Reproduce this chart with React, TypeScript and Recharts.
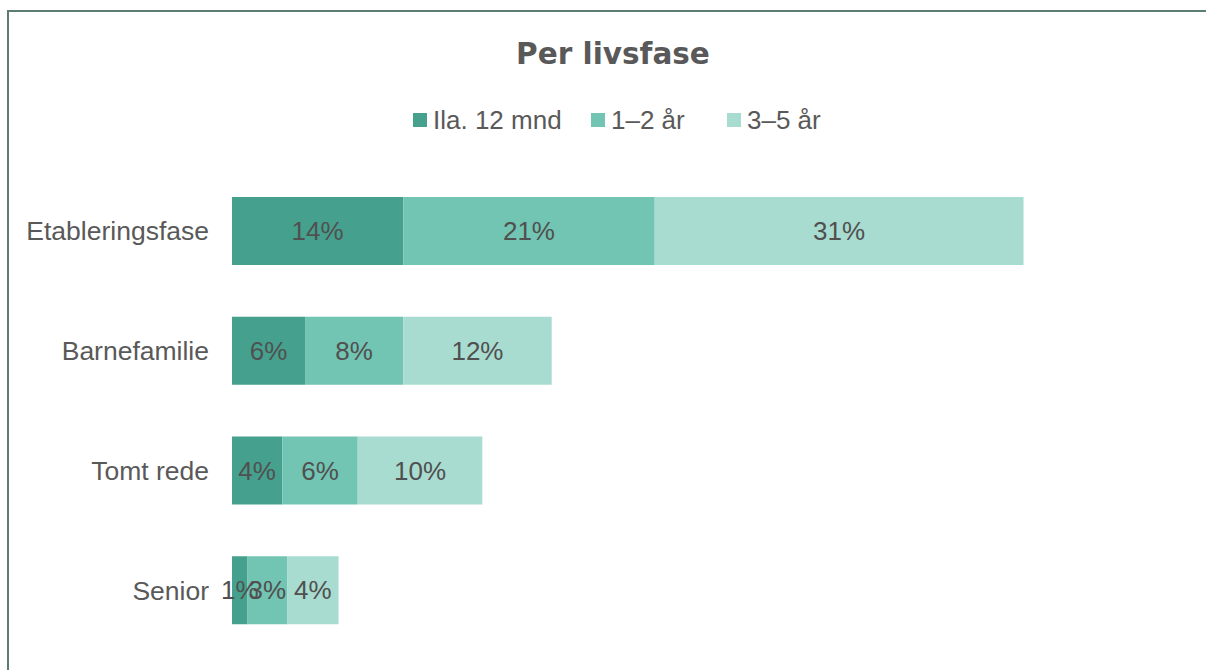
import React from "react";
import { BarChart, Bar, XAxis, YAxis, Legend, LabelList } from "recharts";

const categories = ["Etableringsfase", "Barnefamilie", "Tomt rede", "Senior"];
const within12 = [14.3, 6.1, 4.2, 1.3];
const oneToTwo = [21.0, 8.2, 6.3, 3.3];
const threeToFive = [30.8, 12.4, 10.4, 4.3];
const seriesNames = ["Ila. 12 mnd", "1–2 år", "3–5 år"];
const seriesColors = ["#45a18e", "#72c4b3", "#a9dcd1"];

const data = categories.map((name, i) => ({
  name,
  a: within12[i],
  b: oneToTwo[i],
  c: threeToFive[i],
}));

const FONT = '"Liberation Sans", Arial, sans-serif';
const TEXT = "#595959";

const legendWidths = [178, 136, 110];

const renderLegend = () => (
  <div style={{ position: "relative", height: 30, fontFamily: FONT }}>
    <div style={{ position: "absolute", left: 413, top: 0, display: "flex" }}>
      {seriesNames.map((n, i) => (
        <div key={n} style={{ width: legendWidths[i], display: "flex", alignItems: "center" }}>
          <span style={{ width: 14, height: 14, background: seriesColors[i], display: "inline-block", marginRight: 6 }} />
          <span style={{ fontSize: 26, color: TEXT, lineHeight: "30px" }}>{n}</span>
        </div>
      ))}
    </div>
  </div>
);

const fmt = (v: any) => `${Math.round(Number(v))}%`;

export default function App() {
  return (
    <div style={{ position: "absolute", left: 0, top: 0, width: 1206, height: 670, overflow: "hidden", background: "#fff" }}>
      <div
        style={{
          position: "absolute",
          left: 7,
          top: 10,
          width: 1220,
          height: 700,
          border: "2px solid #5d7c74",
          boxSizing: "border-box",
        }}
      />
      <div
        style={{
          position: "absolute",
          left: 0,
          top: 34,
          width: 1226,
          textAlign: "center",
          fontFamily: '"DejaVu Sans", sans-serif',
          fontWeight: "bold",
          fontSize: 29.5,
          color: TEXT,
          lineHeight: "40px",
        }}
      >
        Per livsfase
      </div>
      <div style={{ position: "absolute", left: 0, top: 0 }}>
        <BarChart
          width={1206}
          height={670}
          data={data}
          layout="vertical"
          margin={{ top: 141, right: 16, bottom: 20, left: 0 }}
        >
          <XAxis type="number" domain={[0, 80]} hide />
          <YAxis
            type="category"
            dataKey="name"
            width={232}
            tickLine={false}
            axisLine={false}
            tickSize={0}
            tickMargin={23}
            tick={{ fill: TEXT, fontSize: 26.5, fontFamily: FONT }}
          />
          <Legend
            verticalAlign="top"
            content={renderLegend}
            wrapperStyle={{ top: 105, left: 0, width: 1206 }}
          />
          {(["a", "b", "c"] as const).map((k, i) => (
            <Bar
              key={k}
              dataKey={k}
              name={seriesNames[i]}
              stackId="s"
              fill={seriesColors[i]}
              barSize={68}
              isAnimationActive={false}
            >
              <LabelList
                dataKey={k}
                position="center"
                formatter={fmt}
                style={{ fill: "#505050", fontSize: 26, fontFamily: FONT }}
              />
            </Bar>
          ))}
        </BarChart>
      </div>
    </div>
  );
}
